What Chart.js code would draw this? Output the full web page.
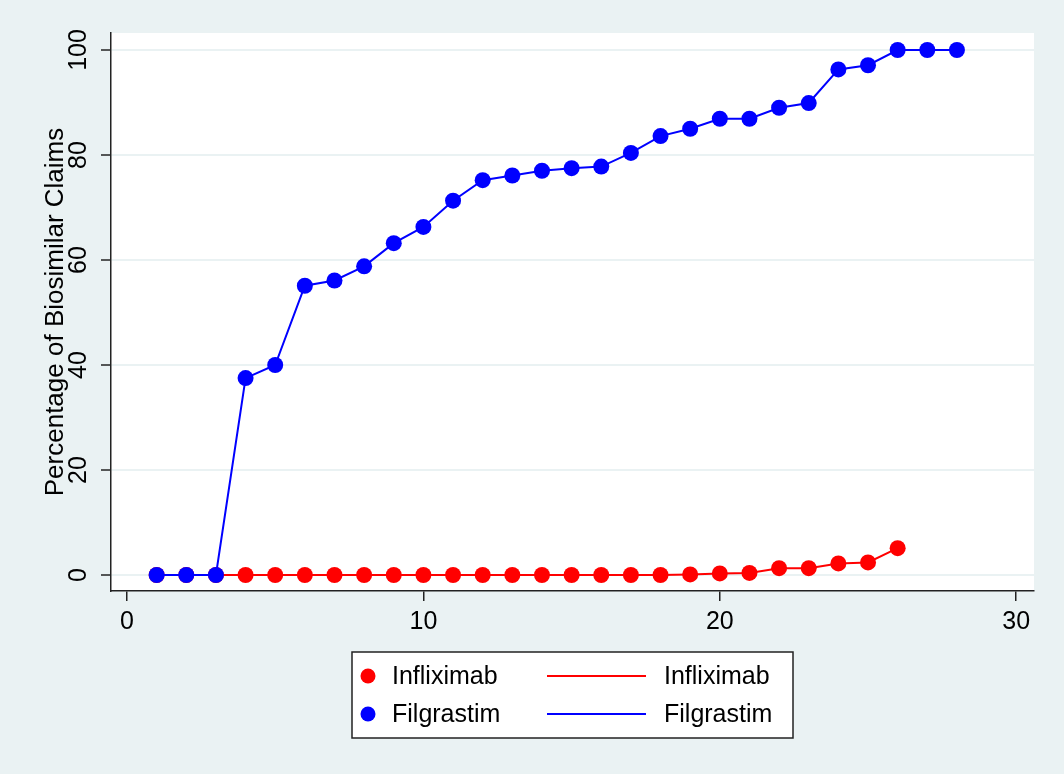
<!DOCTYPE html>
<html>
<head>
<meta charset="utf-8">
<script src="https://cdn.jsdelivr.net/npm/chart.js@4"></script>
<style>
  body { margin: 0; background: #EAF2F3; }
  canvas { display: block; }
</style>
</head>
<body>
<canvas id="claims" width="1064" height="774"></canvas>
<script>
  // Months since biosimilar launch
  const months = [1, 2, 3, 4, 5, 6, 7, 8, 9, 10, 11, 12, 13, 14, 15, 16, 17, 18, 19, 20, 21, 22, 23, 24, 25, 26, 27, 28];
  // Percentage of biosimilar claims
  const infliximab = [0, 0, 0, 0, 0, 0, 0, 0, 0, 0, 0, 0, 0, 0, 0, 0, 0, 0, 0.1, 0.3, 0.4, 1.3, 1.3, 2.2, 2.4, 5.1];
  const filgrastim = [0, 0, 0, 37.5, 40, 55.1, 56.1, 58.8, 63.2, 66.3, 71.3, 75.2, 76.1, 77.0, 77.5, 77.8, 80.4, 83.6, 85.0, 86.9, 86.9, 89.0, 89.9, 96.3, 97.1, 100, 100, 100];
  const xTicks = [0, 10, 20, 30];
  const yTicks = [0, 20, 40, 60, 80, 100];
  const seriesNames = ['Infliximab', 'Filgrastim'];
  const seriesColors = ['#FF0000', '#0000FF'];

  const font = { family: '"Liberation Sans", Arial, sans-serif', size: 25 };
  const titleFont = { family: font.family, size: 26 };

  const toPoints = (vals) => vals.map((v, i) => ({ x: months[i], y: v }));

  // Light outer background, white plot region
  const plotBackground = {
    id: 'plotBackground',
    beforeDraw(chart) {
      const { ctx, chartArea: a } = chart;
      ctx.save();
      ctx.fillStyle = '#EAF2F3';
      ctx.fillRect(0, 0, chart.width, chart.height);
      ctx.fillStyle = '#FFFFFF';
      ctx.fillRect(a.left, a.top, a.right - a.left, a.bottom - a.top);
      ctx.restore();
    }
  };

  // Stata style legend: markers in one column, lines in the other
  const boxLegend = {
    id: 'boxLegend',
    afterDraw(chart) {
      const ctx = chart.ctx;
      ctx.save();
      ctx.fillStyle = '#FFFFFF';
      ctx.fillRect(352, 652, 441, 86);
      ctx.strokeStyle = '#222';
      ctx.lineWidth = 1.5;
      ctx.strokeRect(352, 652, 441, 86);
      ctx.font = font.size + 'px ' + font.family;
      ctx.textBaseline = 'middle';
      seriesNames.forEach((name, i) => {
        const y = 676 + i * 38;
        ctx.fillStyle = seriesColors[i];
        ctx.beginPath();
        ctx.arc(368, y, 7.5, 0, Math.PI * 2);
        ctx.fill();
        ctx.strokeStyle = seriesColors[i];
        ctx.lineWidth = 2;
        ctx.beginPath();
        ctx.moveTo(547, y);
        ctx.lineTo(646, y);
        ctx.stroke();
        ctx.fillStyle = '#000';
        ctx.fillText(name, 392, y + 1);
        ctx.fillText(name, 664, y + 1);
      });
      ctx.restore();
    }
  };

  const ctx = document.getElementById('claims').getContext('2d');

  const claimsChart = new Chart(ctx, {
    type: 'line',
    data: {
      datasets: [
        {
          label: seriesNames[0],
          data: toPoints(infliximab),
          borderColor: seriesColors[0],
          backgroundColor: seriesColors[0],
          borderWidth: 2,
          pointRadius: 8,
          pointBorderWidth: 0,
          order: 1
        },
        {
          label: seriesNames[1],
          data: toPoints(filgrastim),
          borderColor: seriesColors[1],
          backgroundColor: seriesColors[1],
          borderWidth: 2,
          pointRadius: 8,
          pointBorderWidth: 0,
          order: 0 // drawn on top
        }
      ]
    },
    options: {
      responsive: false,
      animation: false,
      events: [],
      layout: { padding: { left: 0, top: 33, right: 30, bottom: 0 } },
      plugins: {
        legend: { display: false },
        tooltip: { enabled: false }
      },
      scales: {
        x: {
          type: 'linear',
          min: -0.54,
          max: 30.6,
          afterBuildTicks: (s) => { s.ticks = xTicks.map(v => ({ value: v })); },
          afterFit: (s) => { s.height = 183; },
          grid: { drawOnChartArea: false, color: '#222', lineWidth: 1.5, tickLength: 10 },
          border: { color: '#222', width: 1.5 },
          ticks: { font: font, color: '#000', padding: 6, maxRotation: 0 }
        },
        y: {
          min: -3.05,
          max: 103.24,
          afterBuildTicks: (s) => { s.ticks = yTicks.map(v => ({ value: v })); },
          afterFit: (s) => { s.width = 111; },
          grid: { color: '#EAF2F3', lineWidth: 2, tickColor: '#222', tickWidth: 1.5, tickLength: 10 },
          border: { color: '#222', width: 1.5 },
          ticks: { font: font, color: '#000', padding: 1, minRotation: 90, maxRotation: 90, crossAlign: 'center' },
          title: {
            display: true,
            text: 'Percentage of Biosimilar Claims',
            font: titleFont,
            color: '#000',
            padding: { top: 40, bottom: 0 }
          }
        }
      }
    },
    plugins: [plotBackground, boxLegend]
  });
</script>
</body>
</html>
